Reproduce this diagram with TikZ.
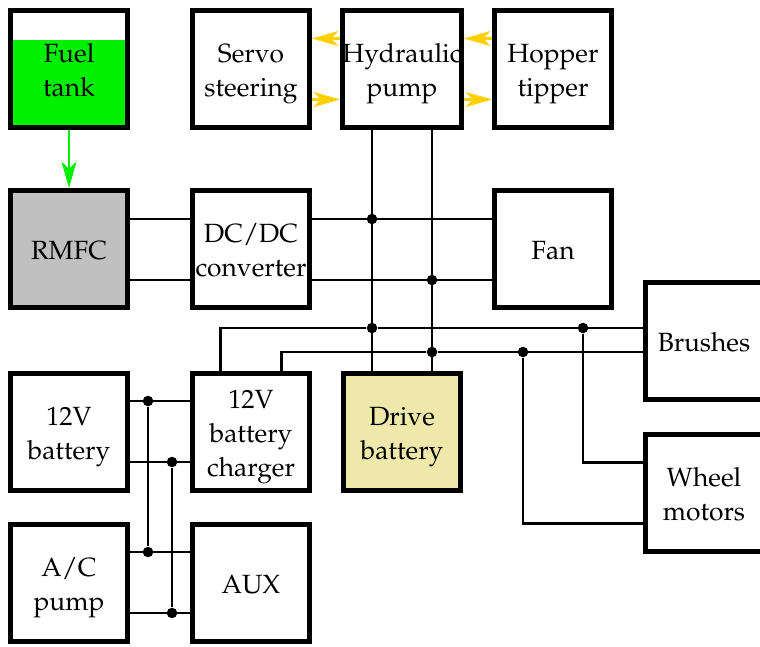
\documentclass[tikz,border=0pt]{standalone}
\usepackage[T1]{fontenc}
\usepackage{mathpazo}
\usepackage{tikz}
\usetikzlibrary{arrows.meta,calc}
\definecolor{fuelgreen}{RGB}{0,240,0}
\definecolor{oilyellow}{RGB}{255,208,0}
\definecolor{cellgray}{RGB}{192,192,192}
\definecolor{packyellow}{RGB}{238,232,170}
\def\qoff{.61cm}
\newcommand\unitlabel[1]{\raisebox{-2pt}[\height][\depth]{\begin{tabular}{@{}c@{}}#1\end{tabular}}}

\tikzset{
  unit/.style={draw,line width=2.8pt,minimum size=2.34cm,inner sep=0pt,
    font=\fontsize{15}{19.5}\selectfont},
  wire/.style={line width=1.3pt},
  oil/.style={line width=1.5pt,oilyellow,-{Stealth[length=15pt,width=8.5pt,inset=4pt]}},
  fuelflow/.style={line width=1.5pt,fuelgreen,-{Stealth[length=15pt,width=8.5pt,inset=4pt]}},
  joint/.style={circle,fill,inner sep=0pt,minimum size=6pt},
  tank/.style={path picture={\fill[fuelgreen] (path picture bounding box.south west) rectangle
    ($(path picture bounding box.north east)!.25!(path picture bounding box.south east)$);}}
}

\begin{document}
\begin{tikzpicture}[x=.02cm,y=-.02cm]
\useasboundingbox (0,0) rectangle (760,646);
% top row
\node[unit,tank] (fuel) at (69,69) {\unitlabel{Fuel\\tank}};
\node[unit] (servo) at (251,69) {\unitlabel{Servo\\steering}};
\node[unit] (hyd) at (402,69) {\unitlabel{Hydraulic\\pump}};
\node[unit] (hopper) at (553,69) {\unitlabel{Hopper\\tipper}};
% second row
\node[unit,fill=cellgray] (rmfc) at (69,249) {\unitlabel{RMFC}};
\node[unit] (dcdc) at (251,249) {\unitlabel{DC/DC\\converter}};
\node[unit] (fan) at (553,249) {\unitlabel{Fan}};
% right column
\node[unit] (brushes) at (704,341) {\unitlabel{Brushes}};
\node[unit] (wheel) at (704,493) {\unitlabel{Wheel\\motors}};
% lower rows
\node[unit] (bat) at (69,432) {\unitlabel{12V\\battery}};
\node[unit] (charger) at (251,432) {\unitlabel{12V\\battery\\charger}};
\node[unit,fill=packyellow] (drive) at (402,432) {\unitlabel{Drive\\battery}};
\node[unit] (ac) at (69,583) {\unitlabel{A/C\\pump}};
\node[unit] (aux) at (251,583) {\unitlabel{AUX}};

% junctions
\node[joint] (j1) at (372,219) {};
\node[joint] (j2) at (432,280) {};
\node[joint] (j3) at (372,328) {};
\node[joint] (j4) at (432,352) {};
\node[joint] (j5) at (583,328) {};
\node[joint] (j6) at (523,352) {};
\node[joint] (j7) at (148,401) {};
\node[joint] (j8) at (172,462) {};
\node[joint] (j9) at (148,552) {};
\node[joint] (j10) at (172,613) {};

% fuel and hydraulics
\draw[fuelflow] (fuel) -- (rmfc);
\draw[oil] ([yshift=\qoff]hyd.west) -- ([yshift=\qoff]servo.east);
\draw[oil] ([yshift=-\qoff]servo.east) -- ([yshift=-\qoff]hyd.west);
\draw[oil] ([yshift=\qoff]hopper.west) -- ([yshift=\qoff]hyd.east);
\draw[oil] ([yshift=-\qoff]hyd.east) -- ([yshift=-\qoff]hopper.west);

% high voltage side
\draw[wire] (rmfc.east |- j1) -- (dcdc.west |- j1);
\draw[wire] (rmfc.east |- j2) -- (dcdc.west |- j2);
\draw[wire] (dcdc.east |- j1) -- (fan.west |- j1);
\draw[wire] (dcdc.east |- j2) -- (fan.west |- j2);
\draw[wire] (hyd.south -| j1) -- (drive.north -| j1);
\draw[wire] (hyd.south -| j2) -- (drive.north -| j2);
\draw[wire] ([xshift=-\qoff]charger.north) |- (j3) -- (brushes.west |- j3);
\draw[wire] ([xshift=\qoff]charger.north) |- (j4) -- (brushes.west |- j4);
\draw[wire] (j5) |- ([yshift=\qoff]wheel.west);
\draw[wire] (j6) |- ([yshift=-\qoff]wheel.west);

% 12V side
\draw[wire] (bat.east |- j7) -- (charger.west |- j7);
\draw[wire] (bat.east |- j8) -- (charger.west |- j8);
\draw[wire] (ac.east |- j9) -- (aux.west |- j9);
\draw[wire] (ac.east |- j10) -- (aux.west |- j10);
\draw[wire] (j7) -- (j9);
\draw[wire] (j8) -- (j10);
\end{tikzpicture}
\end{document}
